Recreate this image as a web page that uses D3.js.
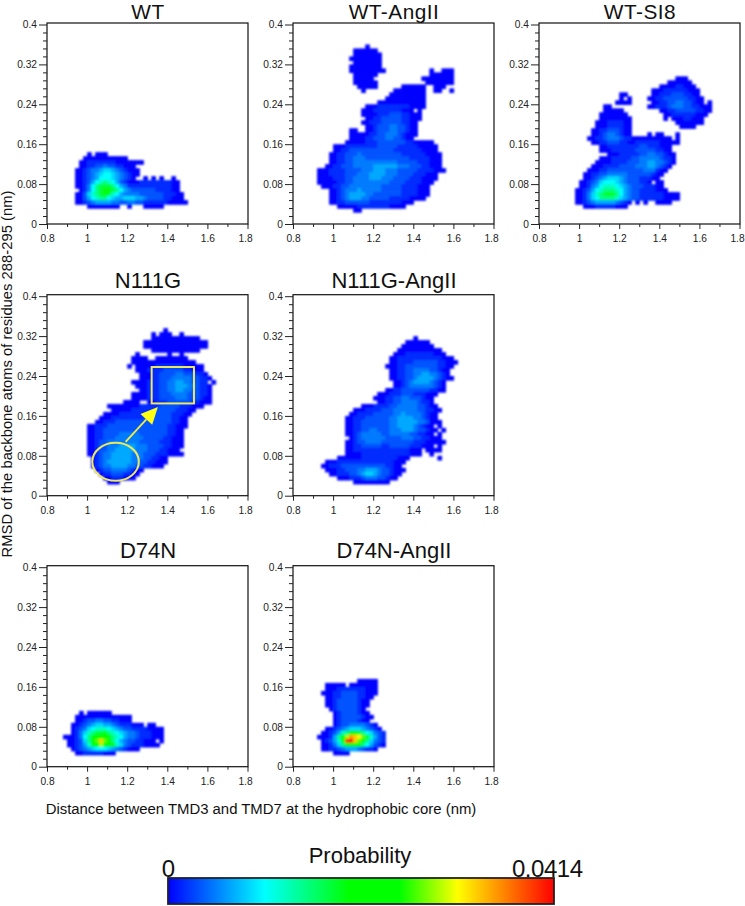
<!DOCTYPE html>
<html><head><meta charset="utf-8">
<script src="https://cdn.jsdelivr.net/npm/d3@7"></script>
<style>html,body{margin:0;padding:0;background:#fff}svg{display:block}text{font-family:"Liberation Sans",Arial,sans-serif}</style>
</head><body><svg id="c" width="745" height="906"></svg>
<script>
// Each string is a row of 0.02 nm bins from x=0.8; rows go down from the stated top bin (0.008 nm per bin).
// Character: level in base 36, looked up in levelValues. '.' = empty bin.
const wtTop = 17;
const wtCells = [
"..........0.000",
".........00000000000",
"........0011111110000000",
"........00112232211000",
".......0012334554321000",
".......0012345665432100",
".......001234666543210..0.0.0..0",
".......00124678764210001111111100",
".......00136899986431111111111100",
"........013689aa98643222222111100",
".......0025789a9764333322222211100",
".......002467886544555443222211000",
".......0012344443322332211111100000",
"..........00000000..0...00000"];
const wtAngTop = 44;
const wtAngCells = [
"..................0",
"...............000000",
"...............0000000",
"..............00000000",
"...............0000000",
"..............00000000",
"..............000000000...........0..000",
"...............000000.............000000",
"...............00000............00000000",
"...............000000............0000000",
"................00000......000000..000",
".................0.......00000000..00..0",
"........................000000000",
".......................0000000000",
".....................000000000000",
"..................000111111110000",
".................0001111111000.0",
".................000011122211000",
"..................00112222211000",
".................00111222221100",
"..................0012223322100",
"..............00..0012223322100",
"..............00000112233321000",
"..............0000112223322100",
".............0000011122222221100000",
"..........00011111111222221111100000",
"..........00112222222222211111110000",
".........0011222322222222221111110000",
".........0011223332222222222211111000",
".........0011223333333333322222111000",
"........00112223333344444433322211000",
"......00011112222333444333222221111000",
"......000111122233344443332222111000",
"......000011122333344433322221110000",
"......00000112233333333322221111000",
".......000112233333333222221111000",
".........0012333433333222221111000",
".........0012344443322222221111000",
".........001234443322222111110000",
".........001122222211111111000",
"...........00000111111110000",
"...............00"];
const wtSi8Top = 36;
const wtSi8Cells = [
"..................................000",
"................................000000",
"..............................000011000",
"............................000111111000",
"....................00......001112221100",
"....................0.0....00112222221100",
"...................0000.....0011223322100.0",
"................00.........0011123332211000",
"................00000.........0011222221100",
"...............0000000.........00111111000",
"...............00000000........0.00011000",
"..............000111100...........0000000",
"..............000111100............0000",
".............0011222100",
".............0012332100....0.00...0",
"............001123332110000000000.0",
".............0011222110011111100000",
"...............001111111122111000",
"...............000111111222221100",
".................00011111223322100",
"...............0001111122333332110",
"..............00001111222334433210",
".............00011112222333443210",
"............00011222222222333100",
"...........00112233333222222100",
"...........0012345554322211100",
"..........001235666543222110.00",
"..........001346777654322211100",
".........00124678887643221111000",
".........00135789a98643221111110000",
".........00135688887543221111110000",
".........00123444443210.0.0..0000",
"...........00011111000"];
const n111gTop = 41;
const n111gCells = [
".............................0",
"..........................0.000..0",
"..........................000000000000",
"........................0000000000000000",
"........................0000000000000000",
"..........................000000000000",
"......................0.......0..0",
".....................0000..00000000",
".....................0000000000000000",
"....................0.00000111111100000",
"......................00011112222211000",
".......................00011222233222110",
".......................000112223333322110",
".....................0000111223344332211.0",
"......................0001112233444332110",
".......................001112233443322110",
".....................00001112223333222110",
".....................00001112222333222100",
"...................0000..0011122222211000",
"...............000000001111122222111000",
"................000001111112222211100",
"..............0000111111122222211100",
".............0001111111122222221100",
"............00111222222222222221100",
"..........0011122222222222222211000",
"..........001122222222222222221100",
"..........001122223333322222221100",
"..........001122233333332222211000",
"..........001223333333322222111000",
"..........001223334444333222211000",
"..........00122334444433322211000",
"..........001233444443332221110000",
"...........0123344444333221100",
"...........0123444444332211000",
"...........012334444332211000",
"............012233332100",
".............0112221100",
"..............00111000",
"...............000"];
const n111gAngTop = 39;
const n111gAngCells = [
"..............................0",
"............................000000",
"...........................00000000",
"..........................00000000000",
".........................0001111111000",
"........................0011111111111000",
"........................00111122222211000",
".......................00011222222221100",
"........................001122333322100",
"........................001122334433210",
"........................0011223444432100",
".........................0012344443210",
".........................0012333333210",
".......................001122222221100",
".....................000111222111000",
"....................000112233222100",
".....................00112233332110",
".................0001111223333322100",
"...............0001111222333333221100",
"..............0011112222233433332100",
".............00111222222334444332100",
".............001122222223344444332000",
".............0011222222233444432100.0",
".............00112233222333444322100.0",
".............0012333332233333221100.0",
"..............01233333322223332211000",
".............0012233332222222211100000",
".............0011222221122222111000.0",
".............0011111111111111000.0000",
".............0000111111111111000..0",
"...........000000111111111000.......0",
"........00011111111111111000",
".......00111222222222221100",
"........00011222334443221000",
".........001112234554322100",
"...........000111233322100",
"...............000000000"];
const d74nTop = 13;
const d74nCells = [
"........0.000000",
".......00000000000000",
".......00122332211000",
"......001234554432111000.00",
"......01235677765432211110000",
"......01357899a87654332111000",
"....0001368abbba8764332111000",
".....001258bdgdb86432211000.0",
".....001247acecba75321110000",
"......01234566654321000",
".......0011111000"];
const d74nAngTop = 21;
const d74nAngCells = [
"................00000",
"........00000.0000000",
"........0001111111000",
".......00011222211000",
"........001122221100",
"........00122222100",
"........00122222100",
".........012222210",
"..........012222100",
"..........0122222100",
"..........012222100",
"..........01223333210",
"........00123455543210",
".......0012478aa9865321",
"......000148behgfda7421",
".......01247cjkgdb85321",
".......001358bcba864210",
".......00112344432110",
"..........0000"];

const panelNames = ["WT","WT-AngII","WT-SI8","N111G","N111G-AngII","D74N","D74N-AngII"];
const panelCells = [wtCells,wtAngCells,wtSi8Cells,n111gCells,n111gAngCells,d74nCells,d74nAngCells];
const panelTops = [wtTop,wtAngTop,wtSi8Top,n111gTop,n111gAngTop,d74nTop,d74nAngTop];
const panelCols = [0,1,2,0,1,0,1];
const panelRows = [0,0,0,1,1,2,2];
const colLefts = [47,293,539];
const rowBottoms = [224,495.7,766.7];
const titleBaselines = [18.9,287.5,558];
const titleSizes = [20.8,22,22];
const xMajor = [0.8,1,1.2,1.4,1.6,1.8];
const xMinor = [0.9,1.1,1.3,1.5,1.7];
const yMajor = [0,0.08,0.16,0.24,0.32,0.4];
const yMinor = [0.016,0.032,0.048,0.064,0.096,0.112,0.128,0.144,0.176,0.192,0.208,0.224,0.256,0.272,0.288,0.304,0.336,0.352,0.368,0.384];
const colourStops = [0,0.25,0.47,0.6,0.75,1];
const colourNames = ["#0000ff","#00ffff","#00ff00","#00ff00","#ffff00","#ff0000"];
const maxProb = 0.0414;
const levelValues = [0,.8,1.6,2.4,3.3,4.2,5,6,7.2,8.5,10,11,12,13,14,15,16,17,18,19,20];
const xBin = 0.02, yBin = 0.008;
const ellipseAnn = {cx:1.142, cy:0.068, rx:0.116, ry:0.038};
const rectAnn = {x0:1.322, x1:1.533, y0:0.185, y1:0.258};
const arrowAnn = {x0:1.192, y0:0.108, x1:1.353, y1:0.178};

const svg = d3.select("#c");
const color = d3.scaleLinear().domain(colourStops.map(d=>d*maxProb)).range(colourNames).clamp(true);
const defs = svg.append("defs");
defs.append("filter").attr("id","soft").attr("x","-5%").attr("y","-5%").attr("width","110%").attr("height","110%")
  .append("feGaussianBlur").attr("stdDeviation",0.85);

panelNames.forEach((name,i)=>{
  const rowI = panelRows[i];
  const L = colLefts[panelCols[i]], B = rowBottoms[rowI];
  const x = d3.scaleLinear().domain([0.8,1.8]).range([L,L+200.5]);
  const y = d3.scaleLinear().domain([0,0.4]).range([B,B-199.5]);
  const g = svg.append("g");
  const cells=[];
  panelCells[i].forEach((row,k)=>{
    const r = panelTops[i]-k;
    [...row].forEach((c,col)=>{ if(c!=="."){ cells.push({col,r,v:levelValues[parseInt(c,36)]/20*maxProb}); } });
  });
  g.append("g").attr("filter","url(#soft)").selectAll("rect").data(cells).join("rect")
    .attr("x",d=>x(0.8+d.col*xBin)).attr("y",d=>y((d.r+1)*yBin))
    .attr("width",x(0.8+xBin)-x(0.8)+0.7).attr("height",y(0)-y(yBin)+0.7)
    .attr("fill",d=>color(d.v));
  g.append("rect").attr("x",L).attr("y",B-201).attr("width",201).attr("height",201)
    .attr("fill","none").attr("stroke","#111").attr("stroke-width",1.2);
  const fmt = d=>String(+d.toFixed(2));
  const styl = a=>{a.select(".domain").remove();a.selectAll("line").attr("stroke","#222");a.selectAll("text").attr("font-size",10.2).attr("fill","#222").attr("font-family","'Liberation Sans',Arial,sans-serif");};
  g.append("g").attr("transform",`translate(${L},0)`).call(d3.axisLeft(y).tickValues(yMajor).tickSize(8).tickPadding(2).tickFormat(fmt)).call(styl);
  g.append("g").attr("transform",`translate(${L},0)`).call(d3.axisLeft(y).tickValues(yMinor).tickSize(4).tickFormat("")).call(styl);
  const xa = g.append("g").attr("transform",`translate(0,${B})`).call(d3.axisBottom(x).tickValues(xMajor).tickSize(5).tickPadding(6).tickFormat(fmt)).call(styl);
  xa.selectAll("text").filter(d=>d===1.8).attr("dx",-2.5);
  g.append("g").attr("transform",`translate(0,${B})`).call(d3.axisBottom(x).tickValues(xMinor).tickSize(3).tickFormat("")).call(styl);
  g.append("text").attr("x",L+101).attr("y",titleBaselines[rowI]).attr("text-anchor","middle").attr("font-size",titleSizes[rowI])
    .attr("letter-spacing",rowI===0?0.5:0).attr("fill","#111").text(name);
  if(name==="N111G"){
    const Y="#eee85a";
    g.append("ellipse").attr("cx",x(ellipseAnn.cx)).attr("cy",y(ellipseAnn.cy))
      .attr("rx",x(ellipseAnn.cx+ellipseAnn.rx)-x(ellipseAnn.cx)).attr("ry",y(ellipseAnn.cy)-y(ellipseAnn.cy+ellipseAnn.ry))
      .attr("fill","none").attr("stroke",Y).attr("stroke-width",2);
    g.append("rect").attr("x",x(rectAnn.x0)).attr("y",y(rectAnn.y1))
      .attr("width",x(rectAnn.x1)-x(rectAnn.x0)).attr("height",y(rectAnn.y0)-y(rectAnn.y1))
      .attr("fill","none").attr("stroke",Y).attr("stroke-width",2);
    const ax0=x(arrowAnn.x0),ay0=y(arrowAnn.y0),ax1=x(arrowAnn.x1),ay1=y(arrowAnn.y1);
    const ang=Math.atan2(ay1-ay0,ax1-ax0),hl=17,hw=8;
    const bx=ax1-hl*Math.cos(ang),by=ay1-hl*Math.sin(ang);
    g.append("line").attr("x1",ax0).attr("y1",ay0).attr("x2",bx).attr("y2",by).attr("stroke","#f2ee3c").attr("stroke-width",1.8);
    g.append("path").attr("d",d3.line()([[ax1,ay1],[bx-hw*Math.sin(ang),by+hw*Math.cos(ang)],[bx+hw*Math.sin(ang),by-hw*Math.cos(ang)]])+"Z").attr("fill","#ffff14");
  }
});

svg.append("text").attr("transform","translate(12,374) rotate(-90)").attr("text-anchor","middle").attr("font-size",14.8).attr("fill","#111")
  .text("RMSD of the backbone atoms of residues 288-295 (nm)");
svg.append("text").attr("x",261).attr("y",814).attr("text-anchor","middle").attr("font-size",14.9).attr("fill","#111")
  .text("Distance between TMD3 and TMD7 at the hydrophobic core (nm)");

// colour bar
const grad = defs.append("linearGradient").attr("id","cb");
colourStops.forEach((s,i)=>grad.append("stop").attr("offset",s).attr("stop-color",colourNames[i]));
const lx = d3.scaleLinear().domain([0,maxProb]).range([168,554]);
svg.append("rect").attr("x",lx(0)).attr("y",878).attr("width",lx(maxProb)-lx(0)).attr("height",26)
  .attr("fill","url(#cb)").attr("stroke","#222").attr("stroke-width",1.8);
svg.append("text").attr("x",360).attr("y",863).attr("text-anchor","middle").attr("font-size",22).attr("fill","#111").text("Probability");
svg.append("text").attr("x",168.5).attr("y",877).attr("text-anchor","middle").attr("font-size",24).attr("fill","#111").text("0");
svg.append("text").attr("x",512).attr("y",877).attr("font-size",24).attr("fill","#111").attr("textLength",71).attr("lengthAdjust","spacing").text("0.0414");
</script></body></html>
